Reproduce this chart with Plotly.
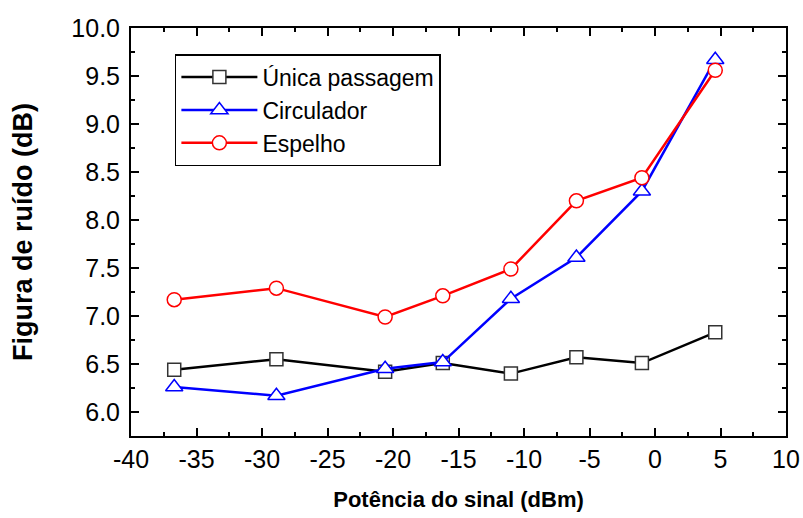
import plotly.graph_objects as go

x_unica = [-36.7, -28.9, -20.6, -16.2, -11.0, -6.0, -1.0, 4.6]
y_unica = [6.44, 6.55, 6.42, 6.51, 6.40, 6.57, 6.51, 6.83]

x_circ = [-36.7, -28.9, -20.6, -16.2, -11.0, -6.0, -1.0, 4.6]
y_circ = [6.26, 6.17, 6.45, 6.52, 7.18, 7.61, 8.30, 9.67]

x_esp = [-36.7, -28.9, -20.6, -16.2, -11.0, -6.0, -1.0, 4.6]
y_esp = [7.17, 7.29, 6.99, 7.21, 7.49, 8.20, 8.44, 9.56]

x_tickvals = [-40, -35, -30, -25, -20, -15, -10, -5, 0, 5, 10]
x_ticktext = ["-40", "-35", "-30", "-25", "-20", "-15", "-10", "-5", "0", "5", "10"]

names = ["Única passagem", "Circulador", "Espelho"]
colors = ["black", "blue", "red"]
symbols = ["square", "triangle-up", "circle"]
msizes = [13, 15, 14]

FONT = "Liberation Sans, Arial, sans-serif"

fig = go.Figure()
for xs, ys, nm, c, sym, ms in zip([x_unica, x_circ, x_esp], [y_unica, y_circ, y_esp],
                                  names, colors, symbols, msizes):
    fig.add_trace(go.Scatter(
        x=xs, y=ys, name=nm, mode="lines+markers",
        line=dict(color=c, width=2.5),
        marker=dict(symbol=sym, size=ms, color="white",
                    line=dict(color=("#333333" if c == "black" else c), width=1.5)),
    ))

axis_common = dict(
    showline=True, linecolor="black", linewidth=2, mirror="ticks",
    ticks="inside", ticklen=8, tickwidth=1.5, tickcolor="black",
    showgrid=False, zeroline=False, automargin=False,
    tickfont=dict(family=FONT, size=25, color="black"),
)

fig.update_xaxes(
    range=[-40, 10], tickvals=x_tickvals, ticktext=x_ticktext,
    minor=dict(dtick=2.5, tick0=-40, ticks="inside", ticklen=4, tickwidth=1.5, tickcolor="black"),
    title=dict(text="<b>Potência do sinal (dBm)</b>", font=dict(family=FONT, size=22, color="black"),
               standoff=20),
    **axis_common,
)
fig.update_yaxes(
    range=[5.75, 10.0], dtick=0.5, tick0=6.0, tickformat=".1f",
    minor=dict(dtick=0.25, tick0=6.0, ticks="inside", ticklen=4, tickwidth=1.5, tickcolor="black"),
    title=dict(text="<b>Figura de ruído (dB)</b>", font=dict(family=FONT, size=27, color="black"),
               standoff=31),
    ticklabelstandoff=4,
    **axis_common,
)

fig.update_layout(
    width=803, height=518,
    margin=dict(l=131, r=17, t=28, b=82),
    paper_bgcolor="white", plot_bgcolor="white",
    font=dict(family=FONT, color="black"),
    legend=dict(
        x=0.067, y=0.936, xanchor="left", yanchor="top",
        bordercolor="black", borderwidth=1.5, bgcolor="white",
        font=dict(family=FONT, size=23, color="black"),
        itemwidth=76, tracegroupgap=0,
    ),
    showlegend=True,
)

fig.write_html("out.html", config={"displayModeBar": False},
               post_script="document.body.style.margin='0';document.body.style.overflow='hidden';")
